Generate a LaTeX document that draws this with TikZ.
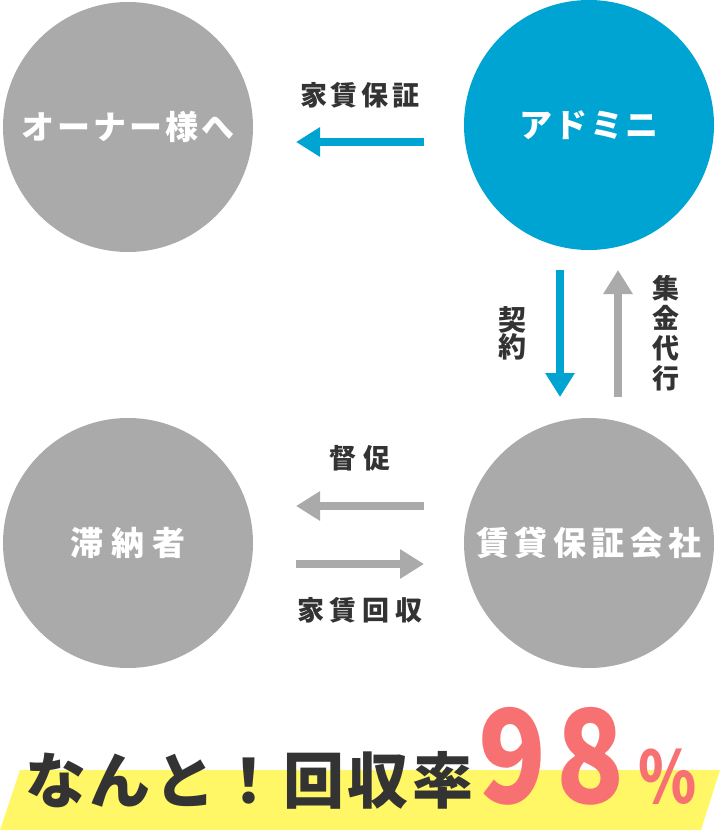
\documentclass[tikz,border=0pt]{standalone}
\usepackage{fontspec}
\newfontfamily\jp{Noto Sans CJK JP}
\usetikzlibrary{arrows.meta}
\definecolor{cgray}{HTML}{AAAAAA}
\definecolor{cblue}{HTML}{00A4D2}
\definecolor{cyel}{HTML}{FFF766}
\definecolor{cpink}{HTML}{F87172}
\definecolor{cdark}{HTML}{333333}
\makeatletter
\def\spc#1#2{\def\spc@t{#1}\spc@aux#2\relax}
\def\spc@aux#1{\ifx#1\relax\unskip\else#1\hspace{\spc@t}\expandafter\spc@aux\fi}
\makeatother
\begin{document}
\begin{tikzpicture}[x=1pt,y=-1pt,
  circ/.style={circle, minimum size=250pt, inner sep=0pt, text=white, font=\jp\bfseries\fontsize{33}{33}\selectfont},
  lbl/.style={text=cdark, inner sep=0pt, font=\jp\bfseries\fontsize{27}{27}\selectfont},
  arr/.style={line width=8pt, -{Triangle[length=24pt,width=28pt]}},
]
\useasboundingbox (0,0) rectangle (720,830);
% circles
\node[circ, fill=cgray] (owner) at (128,127) {\spc{3pt}{オーナー様へ}};
\node[circ, fill=cblue] (admin) at (589,125) {\spc{2.5pt}{アドミニ}};
\node[circ, fill=cgray] (tai) at (128,543) {\spc{8pt}{滞納者}};
\node[circ, fill=cgray] (hosho) at (589,543) {\spc{5.5pt}{賃貸保証会社}};
% arrow ends
\coordinate (a1s) at (424,142); \coordinate (a1e) at (296,142);
\coordinate (a2s) at (560,270); \coordinate (a2e) at (560,397);
\coordinate (a3s) at (618,397); \coordinate (a3e) at (618,270);
\coordinate (a4s) at (424,506); \coordinate (a4e) at (296,506);
\coordinate (a5s) at (296,564); \coordinate (a5e) at (424,564);
\draw[arr, cblue] (a1s) -- (a1e);
\draw[arr, cblue] (a2s) -- (a2e);
\draw[arr, cgray] (a3s) -- (a3e);
\draw[arr, cgray] (a4s) -- (a4e);
\draw[arr, cgray] (a5s) -- (a5e);
% labels
\node[lbl] (l1) at (360,95) {\spc{4pt}{家賃保証}};
\node[lbl] (l2) at (360,458) {\spc{8pt}{督促}};
\node[lbl] (l3) at (360,610) {\spc{6pt}{家賃回収}};
\node[lbl, align=center, font=\jp\bfseries\fontsize{28}{27}\selectfont] (l4) at (512,333) {契\\約};
\node[lbl, align=center, font=\jp\bfseries\fontsize{27}{30}\selectfont] (l5) at (666,333) {集\\金\\代\\行};
% banner
\fill[cyel] (20,770) -- (720,770) -- (701,830) -- (0,830) -- cycle;
\node[text=cdark, inner sep=0pt, anchor=west, font=\jp\bfseries\fontsize{61}{61}\selectfont] (nanto) at (25,780) {\spc{3.5pt}{なんと！回収率}};
\node[text=cpink, inner sep=0pt, anchor=base west, font=\jp\bfseries\fontsize{130}{130}\selectfont] (num) at (478,803) {\scalebox{0.86}[1]{\spc{12pt}{98}}};
\node[text=cpink, inner sep=0pt, anchor=base west, font=\jp\bfseries\fontsize{72}{72}\selectfont] (pct) at (638,803) {\scalebox{0.82}[1]{\%}};
\end{tikzpicture}
\end{document}
